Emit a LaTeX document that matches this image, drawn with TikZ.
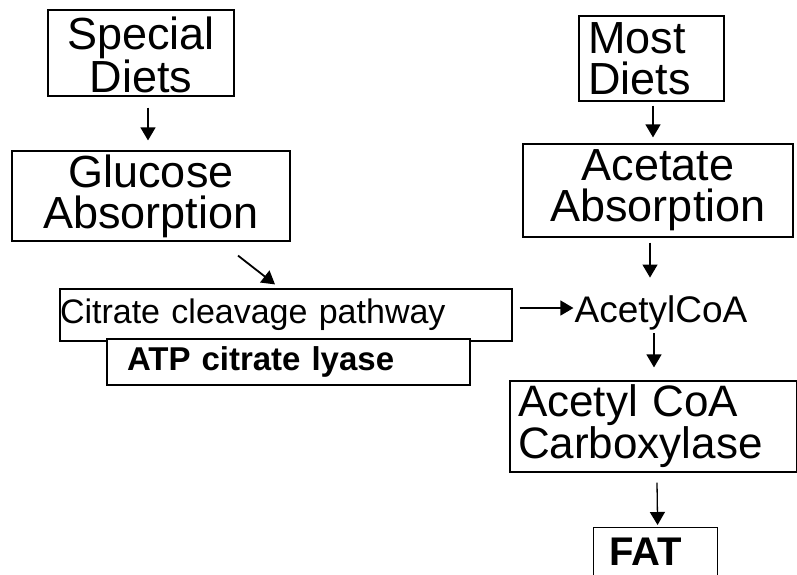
\documentclass[tikz,border=0pt]{standalone}
\usepackage{fontspec}
\setmainfont{Liberation Sans}
\usepackage{tikz}
\usetikzlibrary{arrows.meta}

\begin{document}
\begin{tikzpicture}[x=1pt, y=-1pt,
    block/.style={rectangle, draw, line width=1.2pt, inner sep=0pt, fill=white},
    big/.style={font=\fontsize{45}{41}\selectfont},
    line/.style={draw, line width=1.3pt, -{Triangle[length=13pt,width=15pt]}}]

    \useasboundingbox (0,0) rectangle (797,574);
    \clip (0,0) rectangle (797,574);

    \node [block, big, text width=186pt, text height=37pt, minimum height=86pt, align=center] (sdiets) at (141,53) {Special\\Diets};
    \node [block, big, text width=264pt, inner xsep=7pt, minimum height=90pt, align=center] (gluc) at (151,196) {Glucose\\Absorption\hspace*{12pt}};
    \node [block, big, text width=127pt, inner xsep=9pt, minimum height=85pt, align=left] (mdiets) at (651.5,58.5) {Most\\Diets};
    \node [block, big, text width=250pt, inner xsep=10pt, minimum height=93pt, align=center] (acet) at (658,190.5) {Acetate\hspace*{14pt}\\Absorption};
    \node [block, font=\fontsize{34}{36}\selectfont, text width=452pt, minimum height=52pt, align=left] (citrate) at (286,315) {Citrate cleavage pathway};
    \node [block, font=\fontsize{33}{36}\selectfont\bfseries, text width=323pt, inner xsep=20pt, minimum height=46pt, align=left] (atp) at (288.5,362) {ATP citrate lyase};
    \node [font=\fontsize{37}{40}\selectfont, inner sep=0pt] (acoa) at (661,313) {AcetylCoA};
    \node [block, font=\fontsize{44}{41}\selectfont, text width=271pt, inner xsep=8pt, minimum height=91pt, align=left] (acc) at (653.5,426.5) {Acetyl CoA\\Carboxylase};
    \node [block, font=\fontsize{40}{44}\selectfont\bfseries, text width=92pt, inner xsep=16pt, minimum height=48pt, align=left, anchor=north west] (fat) at (593,527) {FAT};

    \path [line] ([xshift=7pt,yshift=-11pt]sdiets.south) -- ([xshift=-3pt,yshift=10pt]gluc.north);
    \path [line, line width=1.8pt] ([xshift=87pt,yshift=-14pt]gluc.south) -- ([xshift=-11pt,yshift=4pt]citrate.north);
    \path [line] ([xshift=1.5pt,yshift=-4pt]mdiets.south) -- ([xshift=-5pt,yshift=6pt]acet.north);
    \path [line] ([xshift=-8pt,yshift=-5pt]acet.south) -- ([xshift=-11pt,yshift=18pt]acoa.north);
    \path [line] ([xshift=7pt,yshift=7pt]citrate.east) -- ([xshift=-1pt,yshift=5pt]acoa.west);
    \path [line] ([xshift=-7pt,yshift=-3pt]acoa.south) -- ([xshift=0.5pt,yshift=13pt]acc.north);
    \path [line] ([xshift=3.5pt,yshift=-10pt]acc.south) -- ([xshift=2pt,yshift=2pt]fat.north);
\end{tikzpicture}
\end{document}
